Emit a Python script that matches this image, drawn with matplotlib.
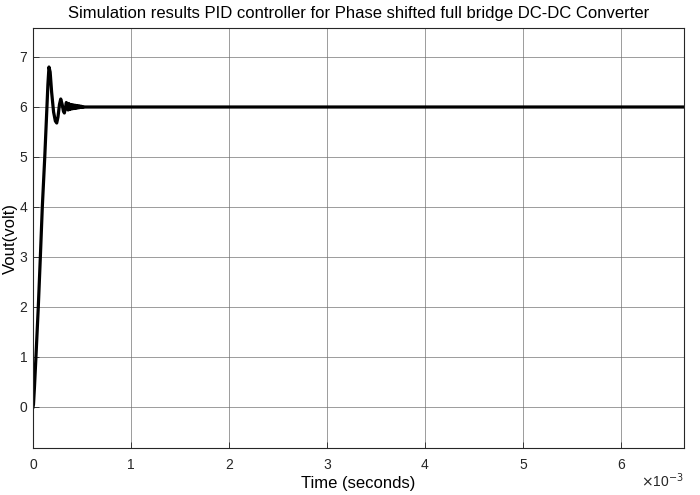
import numpy as np
import matplotlib
matplotlib.use("Agg")
import matplotlib.pyplot as plt

plt.rcParams['font.family'] = ['Liberation Sans', 'DejaVu Sans']

# time in milliseconds (axis shown in seconds with x10^-3 multiplier)
t_ms = [0, 0.005, 0.015, 0.03, 0.054, 0.075, 0.095, 0.12, 0.14, 0.152, 0.163, 0.175,
        0.19, 0.21, 0.228, 0.242, 0.255, 0.27, 0.283, 0.298, 0.31, 0.32, 0.33, 0.34,
        0.35, 0.358, 0.366, 0.374, 0.382, 0.39, 0.398, 0.406, 0.414, 0.422, 0.43,
        0.438, 0.446, 0.454, 0.462, 0.47, 0.478, 0.486, 0.494, 0.502, 0.51, 0.52,
        0.53, 6.7]
vout = [0, 0.05, 0.4, 1.0, 2.0, 3.0, 4.0, 5.0, 5.9, 6.45, 6.8, 6.7,
        6.3, 5.9, 5.72, 5.68, 5.8, 6.05, 6.16, 6.05, 5.92, 5.88, 5.97, 6.09,
        6.03, 5.94, 6.07, 5.95, 6.05, 5.96, 6.045, 5.965, 6.04, 5.97, 6.035,
        5.975, 6.03, 5.98, 6.025, 5.985, 6.02, 5.99, 6.015, 5.993, 6.008, 5.996,
        6.0, 6.0]

x_ticks = [0, 1, 2, 3, 4, 5, 6]
y_ticks = [0, 1, 2, 3, 4, 5, 6, 7]

fig = plt.figure(figsize=(7.0, 4.95), dpi=100)
ax = fig.add_axes([33/700, 1-448/495, (684-33)/700, (448-28)/495])

t_s = np.array(t_ms) * 1e-3
ax.plot(t_s, vout, color='black', linewidth=2.3, solid_joinstyle='round')

ax.set_xlim(0, 6.643e-3)
ax.set_ylim(-0.82, 7.58)
ax.set_xticks(np.array(x_ticks) * 1e-3)
ax.set_xticklabels([str(v) for v in x_ticks])
ax.set_yticks(y_ticks)
ax.set_yticklabels([str(v) for v in y_ticks])

ax.grid(True, color='#6e6e6e', linewidth=0.6, alpha=0.8)
ax.tick_params(direction='in', length=4, width=0.6, colors='#262626',
               labelsize=10, top=False, right=False)
ax.tick_params(axis='x', pad=7)
ax.tick_params(axis='y', pad=4)
for s in ax.spines.values():
    s.set_color('#262626')
    s.set_linewidth(0.8)

ax.text(1.0, -0.078, r'$\times$10$^{-3}$', transform=ax.transAxes,
        ha='right', va='center', fontsize=10, color='#262626')

ax.set_xlabel('Time (seconds)', fontsize=12, color='black', labelpad=3)
ax.set_ylabel('Vout(volt)', fontsize=12, color='black', labelpad=1)
ax.set_title('Simulation results PID controller for Phase shifted full bridge DC-DC Converter',
             fontsize=12, color='black', pad=7)

fig.savefig('out.png', dpi=100, facecolor='white')
